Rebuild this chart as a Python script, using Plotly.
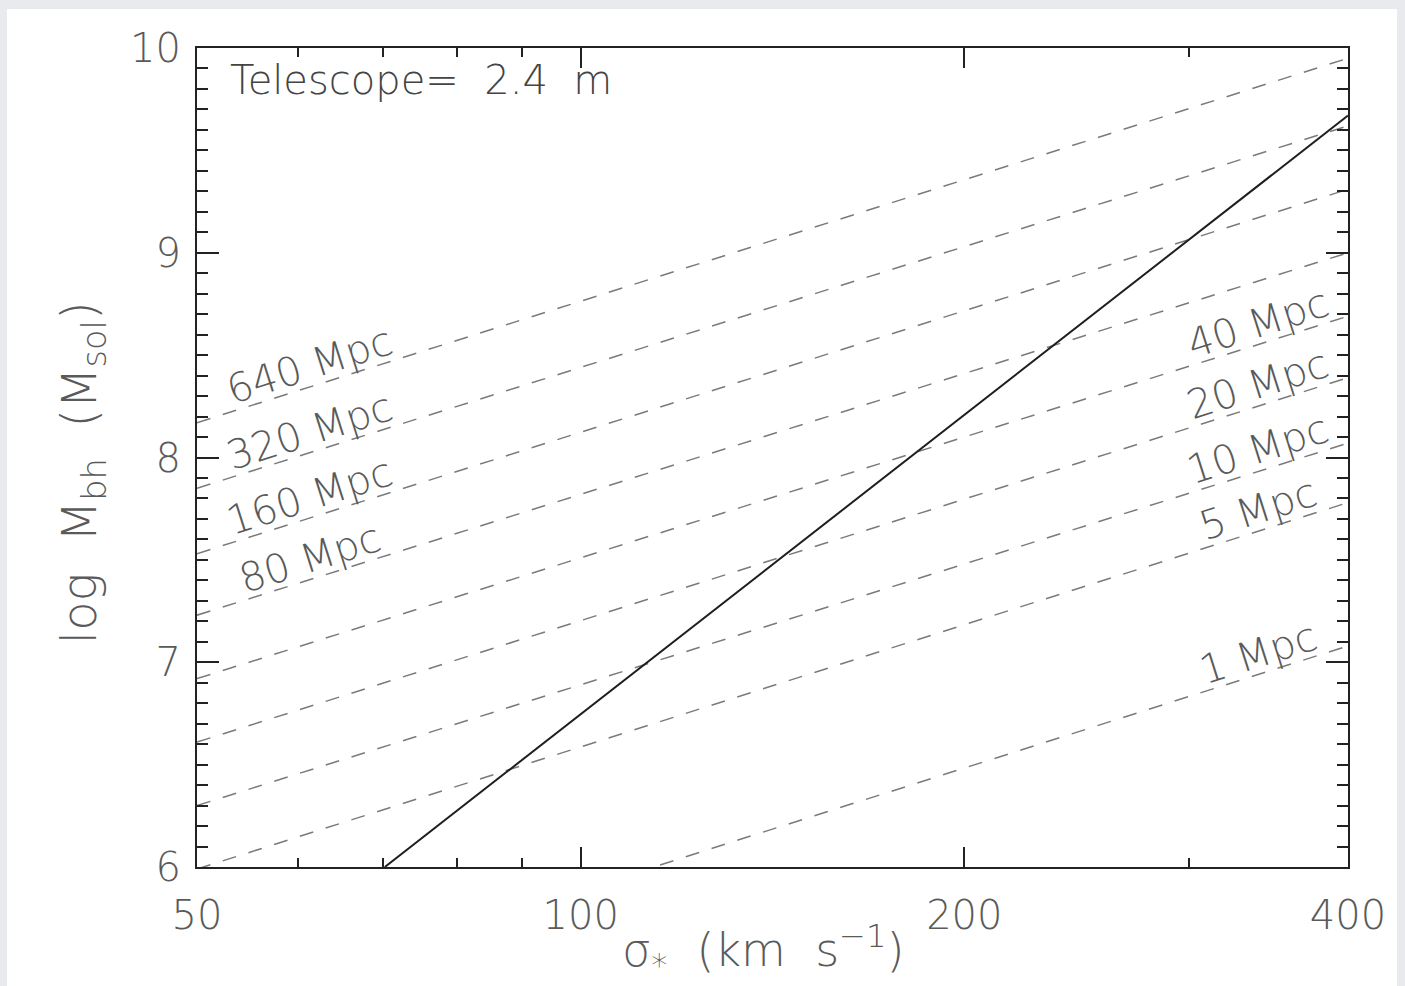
import numpy as np
import plotly.graph_objects as go

# Distance tracks: log M_bh whose sphere of influence is just resolved
distances_mpc = [640, 320, 160, 80, 40, 20, 10, 5, 1]
sigma_ends = [50, 400]
logm_at_sigma50 = [8.17, 7.85, 7.53, 7.23, 6.92, 6.61, 6.30, 5.99, 5.29]
logm_at_sigma400 = [9.95, 9.62, 9.31, 9.00, 8.69, 8.39, 8.07, 7.78, 7.08]
label_side = ["left", "left", "left", "left", "right", "right", "right", "right", "right"]

# M-sigma relation (solid line)
msigma_sigma = [70.2, 400]
msigma_logm = [6.0, 9.67]

x_tickvals = [50, 100, 200, 400]
x_ticktext = ["50", "100", "200", "400"]
x_minor_vals = [60, 70, 80, 90, 300]
y_tickvals = [6, 7, 8, 9, 10]

FONT = "DejaVu Sans"
GREY_TEXT = "#5a5a5a"
AXIS = "#222222"
NB = "\u00a0"

fig = go.Figure()

for d, y0, y1 in zip(distances_mpc, logm_at_sigma50, logm_at_sigma400):
    fig.add_trace(go.Scatter(
        x=sigma_ends, y=[y0, y1], mode="lines",
        line=dict(color="#7a7a7a", width=1.5, dash="14px,13px"),
        showlegend=False, hoverinfo="skip", name=f"{d} Mpc",
    ))

fig.add_trace(go.Scatter(
    x=msigma_sigma, y=msigma_logm, mode="lines",
    line=dict(color="#1e1e1e", width=2),
    showlegend=False, hoverinfo="skip",
))

# Labels sit just above their tracks
label_sigma = {"left": 61.3, "right": 340.0}
annotations = []
for d, y0, y1, side in zip(distances_mpc, logm_at_sigma50, logm_at_sigma400, label_side):
    s = label_sigma[side]
    frac = (np.log10(s) - np.log10(sigma_ends[0])) / (np.log10(sigma_ends[1]) - np.log10(sigma_ends[0]))
    yl = y0 + frac * (y1 - y0)
    annotations.append(dict(
        x=np.log10(s), y=yl, xref="x", yref="y", text=f"{d}{NB}Mpc",
        showarrow=False, textangle=-17.6, yshift=22,
        font=dict(family=FONT, size=40, color=GREY_TEXT, weight=200),
        xanchor="center", yanchor="middle",
    ))

annotations.append(dict(
    x=0.027, y=0.992, xref="paper", yref="paper", xanchor="left", yanchor="top",
    text=f"Telescope={NB}{NB}2.4{NB}{NB}m", showarrow=False,
    font=dict(family=FONT, size=40, color="#444444", weight=200),
))
annotations.append(dict(
    x=-0.100, y=0.482, xref="paper", yref="paper", xanchor="center", yanchor="middle",
    text=f"log{NB}{NB}M<sub>bh</sub>{NB}{NB}(M<sub>sol</sub>)", textangle=-90, showarrow=False,
    font=dict(family=FONT, size=48, color=GREY_TEXT, weight=200),
))
annotations.append(dict(
    x=0.492, y=-0.102, xref="paper", yref="paper", xanchor="center", yanchor="middle",
    text=f"σ<sub>*</sub>{NB}{NB}(km{NB}{NB}s<sup>−1</sup>)", showarrow=False,
    font=dict(family=FONT, size=46, color=GREY_TEXT, weight=200),
))

axis_common = dict(
    showgrid=False, zeroline=False, showline=True, linecolor=AXIS, linewidth=2,
    mirror="allticks", ticks="inside", tickcolor=AXIS, tickwidth=2,
    tickfont=dict(family=FONT, size=40, color=GREY_TEXT, weight=200),
)

fig.update_xaxes(
    type="log", range=[np.log10(50), np.log10(400)],
    tickmode="array", tickvals=x_tickvals, ticktext=x_ticktext, ticklen=20,
    ticklabelstandoff=12,
    minor=dict(tickmode="array", tickvals=x_minor_vals, ticklen=9,
               tickcolor=AXIS, tickwidth=2, ticks="inside", showgrid=False),
    **axis_common,
)
fig.update_yaxes(
    range=[6, 10], tickmode="array", tickvals=y_tickvals, ticklen=22,
    ticklabelstandoff=6,
    minor=dict(dtick=0.1, ticklen=11, tickcolor=AXIS, tickwidth=2,
               ticks="inside", showgrid=False),
    **axis_common,
)

# White panel on a light grey page
fig.add_shape(type="rect", xref="paper", yref="paper",
              x0=-0.1651, x1=1.0426, y0=-0.16, y1=1.0476,
              fillcolor="white", line=dict(width=0), layer="below")

fig.update_layout(
    width=1405, height=986,
    margin=dict(l=197, r=57, t=48, b=119),
    paper_bgcolor="#e8eaee", plot_bgcolor="white",
    annotations=annotations, showlegend=False,
)

fig.write_html("out.html")
